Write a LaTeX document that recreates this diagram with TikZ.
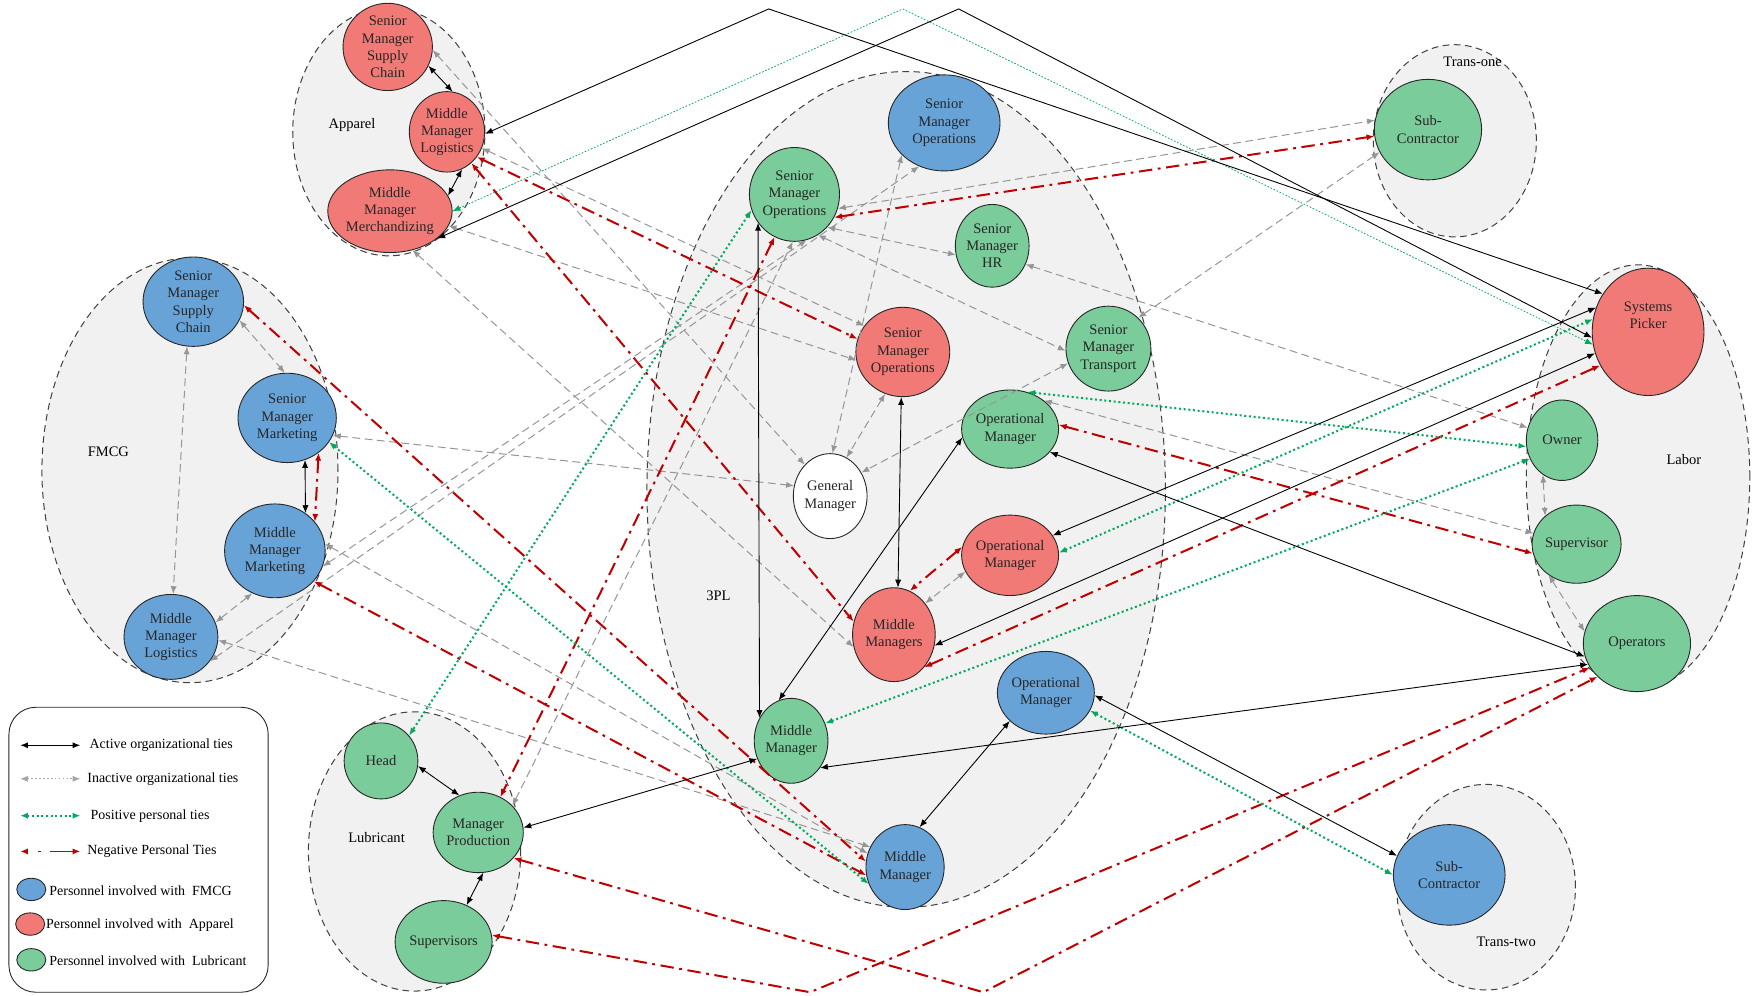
\documentclass[tikz,border=0pt]{standalone}
\usepackage{fontspec}
\setmainfont{Liberation Serif}
\usetikzlibrary{shapes.geometric,arrows.meta}
\definecolor{apred}{RGB}{242,122,118}
\definecolor{fmblue}{RGB}{104,163,216}
\definecolor{lugreen}{RGB}{122,204,154}
\definecolor{grpgray}{RGB}{241,241,241}
\definecolor{tieRed}{RGB}{192,0,0}
\definecolor{tieGreen}{RGB}{0,170,90}
\definecolor{tieGray}{RGB}{150,150,150}
\begin{document}
\begin{tikzpicture}[x=1pt,y=-1pt,
  person/.style={ellipse, draw=black!85, line width=0.8pt, inner sep=0pt, align=center, text=black!85, font=\fontsize{13}{15.5}\selectfont},
  fm/.style={person, fill=fmblue},
  ap/.style={person, fill=apred},
  lu/.style={person, fill=lugreen},
  wh/.style={person, fill=white},
  grp/.style={ellipse, draw=black!75, fill=grpgray, line width=0.9pt, dash pattern=on 6pt off 4pt, inner sep=0pt},
  lbl/.style={font=\fontsize{13}{15.5}\selectfont, inner sep=0pt},
  legtxt/.style={font=\fontsize{12.5}{15}\selectfont, inner sep=0pt, anchor=west},
  biarrow/.style={{Latex[length=7pt,width=5.5pt]}-{Latex[length=7pt,width=5.5pt]}},
  acttie/.style={biarrow, draw=black, line width=0.8pt},
  inatie/.style={biarrow, draw=tieGray, line width=0.9pt, dash pattern=on 7pt off 4pt},
  postie/.style={biarrow, draw=tieGreen, line width=1.8pt, dash pattern=on 1.8pt off 2.4pt},
  posthin/.style={biarrow, draw=tieGreen, line width=0.7pt, dash pattern=on 1.5pt off 1.5pt},
  negtie/.style={biarrow, draw=tieRed, line width=1.8pt, dash pattern=on 12pt off 5pt on 2.5pt off 5pt}
]
\useasboundingbox (0,0) rectangle (1568,891);

% groups
\node[grp, minimum width=172pt, minimum height=222pt] (gApp) at (348,118) {};
\node[grp, minimum width=265pt, minimum height=380pt] (gFM) at (170,421) {};
\node[grp, minimum width=190pt, minimum height=250pt] (gLu) at (371,762) {};
\node[grp, minimum width=464pt, minimum height=748pt] (g3PL) at (811,438) {};
\node[grp, minimum width=146pt, minimum height=172pt] (gT1) at (1302,126) {};
\node[grp, minimum width=200pt, minimum height=380pt] (gLab) at (1466,427) {};
\node[grp, minimum width=160pt, minimum height=184pt] (gT2) at (1330,794) {};

\node[lbl] (lApp) at (315,112) {Apparel};
\node[lbl] (lFM) at (97,404) {FMCG};
\node[lbl] (lLu) at (337,750) {Lubricant};
\node[lbl] (l3PL) at (643,533) {3PL};
\node[lbl] (lT1) at (1318,55) {Trans-one};
\node[lbl] (lLab) at (1507,411) {Labor};
\node[lbl] (lT2) at (1348,843) {Trans-two};

% Apparel
\node[ap, minimum width=80pt, minimum height=68pt] (aSMSC) at (347,42) {Senior\\Manager\\Supply\\Chain};
\node[ap, minimum width=64pt, minimum height=72pt] (aMML) at (400,118) {Middle\\Manager\\Logistics};
\node[ap, minimum width=90pt, minimum height=74pt] (aMMM) at (349,189) {Middle\\Manager\\Merchandizing};
% FMCG
\node[fm, minimum width=90pt, minimum height=80pt] (fSMSC) at (173,270) {Senior\\Manager\\Supply\\Chain};
\node[fm, minimum width=88pt, minimum height=80pt] (fSMM) at (257,374) {Senior\\Manager\\Marketing};
\node[fm, minimum width=90pt, minimum height=84pt] (fMMM) at (246,493) {Middle\\Manager\\Marketing};
\node[fm, minimum width=84pt, minimum height=76pt] (fMML) at (153,570) {Middle\\Manager\\Logistics};
% Lubricant
\node[lu, minimum width=66pt, minimum height=68pt] (lHead) at (341,681) {Head};
\node[lu, minimum width=80pt, minimum height=72pt] (lMP) at (428,745) {Manager\\Production};
\node[lu, minimum width=80pt, minimum height=74pt] (lSup) at (397,843) {Supervisors};
% 3PL
\node[fm, minimum width=100pt, minimum height=86pt] (pSMOb) at (845,110) {Senior\\Manager\\Operations};
\node[lu, minimum width=76pt, minimum height=84pt] (pSMOg) at (711,174) {Senior\\Manager\\Operations};
\node[lu, minimum width=66pt, minimum height=74pt] (pHR) at (888,220) {Senior\\Manager\\HR};
\node[ap, minimum width=84pt, minimum height=80pt] (pSMOr) at (808,315) {Senior\\Manager\\Operations};
\node[lu, minimum width=76pt, minimum height=76pt] (pTr) at (992,312) {Senior\\Manager\\Transport};
\node[lu, minimum width=74pt, minimum height=70pt] (pOMg) at (904,384) {Operational\\Manager};
\node[wh, minimum width=66pt, minimum height=76pt] (pGM) at (743,444) {General\\Manager};
\node[ap, minimum width=74pt, minimum height=72pt] (pOMr) at (904,497) {Operational\\Manager};
\node[ap, minimum width=74pt, minimum height=84pt] (pMMr) at (800,568) {Middle\\Managers};
\node[fm, minimum width=84pt, minimum height=74pt] (pOMb) at (936,620) {Operational\\Manager};
\node[lu, minimum width=66pt, minimum height=76pt] (pMMg) at (708,663) {Middle\\Manager};
\node[fm, minimum width=70pt, minimum height=76pt] (pMMb) at (810,776) {Middle\\Manager};
% Trans-one, Labor, Trans-two
\node[lu, minimum width=96pt, minimum height=90pt] (t1SC) at (1278,116) {Sub-\\Contractor};
\node[ap, minimum width=100pt, minimum height=114pt] (lbSP) at (1475,297) {Systems\\Picker\\[14pt]};
\node[lu, minimum width=64pt, minimum height=72pt] (lbOw) at (1398,394) {Owner};
\node[lu, minimum width=70pt, minimum height=70pt] (lbSu) at (1411,487) {Supervisor};
\node[lu, minimum width=96pt, minimum height=86pt] (lbOp) at (1465,576) {Operators};
\node[fm, minimum width=100pt, minimum height=90pt] (t2SC) at (1297,783) {Sub-\\Contractor};

% bend points
\coordinate (apx1) at (688,8);
\coordinate (apx2) at (858,8);
\coordinate (apx3) at (808,8);
\coordinate (bot1) at (725,888);
\coordinate (bot2) at (880,888);

% ---- inactive (gray dashed)
\draw[inatie] (aSMSC.-4) -- (pGM.129);
\draw[inatie] (aMML.-25) -- (pSMOr.146);
\draw[inatie] (aMMM.-14) -- (pSMOr.190);
\draw[inatie] (aMMM.-60) -- (pMMr.197);
\draw[inatie] (fSMSC.-22) -- (fSMM.93);
\draw[inatie] (fSMSC.-98) -- (fMML.87);
\draw[inatie] (fMMM.242) -- (fMML.18);
\draw[inatie] (fSMM.-21) -- (pGM.164);
\draw[inatie] (fMMM.8) -- (pMMb.160);
\draw[inatie] (fMMM.-18) -- (pSMOg.-75);
\draw[inatie] (fMML.-4) -- (pMMb.150);
\draw[inatie] (fMML.-32) -- (pSMOb.240);
\draw[inatie] (lMP.38) -- (pSMOg.-92);
\draw[inatie] (pSMOb.217) -- (pGM.87);
\draw[inatie] (pSMOr.247) -- (pGM.67);
\draw[inatie] (pTr.200) -- (pGM.37);
\draw[inatie] (pSMOg.-18) -- (t1SC.170);
\draw[inatie] (pSMOg.-45) -- (pHR.194);
\draw[inatie] (pSMOg.-60) -- (pTr.183);
\draw[inatie] (pHR.-29) -- (lbOw.160);
\draw[inatie] (pOMg.40) -- (lbSu.166);
\draw[inatie] (pTr.46) -- (t1SC.205);
\draw[inatie] (pOMr.200) -- (pMMr.45);
\draw[inatie] (lbOw.241) -- (lbSu.138);
\draw[inatie] (lbSu.228) -- (lbOp.167);

% ---- negative (red dash-dot)
\draw[negtie] (aMML.-40) -- (pSMOr.164);
\draw[negtie] (aMML.-52) -- (pMMr.162);
\draw[negtie] (pSMOg.-115) -- (lMP.58);
\draw[negtie] (pSMOg.-30) -- (t1SC.187);
\draw[negtie] (fSMSC.-4) -- (pMMb.172);
\draw[negtie] (fSMM.-48) -- (fMMM.36);
\draw[negtie] (fMMM.-38) -- (pMMb.192);
\draw[negtie] (lSup.8) -- (bot1) -- (lbOp.207);
\draw[negtie] (lMP.-36) -- (bot2) -- (lbOp.220);
\draw[negtie] (pOMr.170) -- (pMMr.70);
\draw[negtie] (pMMr.-47) -- (lbSP.215);
\draw[negtie] (pOMg.5) -- (lbSu.192);

% ---- positive (green dotted)
\draw[postie] (pSMOg.200) -- (lHead.42);
\draw[postie] (fSMM.-30) -- (pMMb.205);
\draw[postie] (pOMg.65) -- (lbOw.190);
\draw[postie] (pOMr.3) -- (lbSP.167);
\draw[postie] (pMMg.27) -- (lbOw.210);
\draw[postie] (pOMb.-22) -- (t2SC.180);
\draw[posthin] (aMMM.0) -- (apx3) -- (lbSP.193);

% ---- active (black)
\draw[acttie] (aSMSC.-25) -- (aMML.82);
\draw[acttie] (aMML.-68) -- (aMMM.15);
\draw[acttie] (fSMM.-67) -- (fMMM.51);
\draw[acttie] (lHead.-8) -- (lMP.117);
\draw[acttie] (lMP.-83) -- (lSup.58);
\draw[acttie] (aMML.-3) -- (apx1) -- (lbSP.140);
\draw[acttie] (aMMM.-30) -- (apx2) -- (lbSP.186);
\draw[acttie] (pSMOg.-142) -- (pMMg.144);
\draw[acttie] (pSMOr.-92) -- (pMMr.85);
\draw[acttie] (pOMg.190) -- (pMMg.107);
\draw[acttie] (pOMg.-30) -- (lbOp.194);
\draw[acttie] (pMMg.-43) -- (lbOp.203);
\draw[acttie] (pOMb.-3) -- (t2SC.160);
\draw[acttie] (pOMb.218) -- (pMMb.70);
\draw[acttie] (lMP.6) -- (pMMg.208);
\draw[acttie] (pMMr.-15) -- (lbSP.202);
\draw[acttie] (pOMr.25) -- (lbSP.155);

% ---- legend
\node[draw=black!85, line width=0.8pt, rounded corners=24pt, minimum width=232pt, minimum height=255pt, inner sep=0pt] (legend) at (124,760.5) {};
\coordinate (k1a) at (18,667); \coordinate (k1b) at (72,667);
\coordinate (k2a) at (18,697); \coordinate (k2b) at (72,697);
\coordinate (k3a) at (18,730); \coordinate (k3b) at (72,730);
\coordinate (k4a) at (18,762); \coordinate (k4b) at (72,762);
\draw[acttie, line width=1.2pt] (k1a) -- (k1b);
\draw[biarrow, draw=black!35, line width=0.9pt, dash pattern=on 1.5pt off 2pt] (k2a) -- (k2b);
\draw[postie] (k3a) -- (k3b);
\draw[biarrow, draw=tieRed, line width=1.6pt, dash pattern=on 0pt off 10pt on 2.5pt off 8pt on 26pt off 100pt] (k4a) -- (k4b);
\node[legtxt] (t1) at (80,667) {Active organizational ties};
\node[legtxt] (t2) at (78,697) {Inactive organizational ties};
\node[legtxt] (t3) at (81,730) {Positive personal ties};
\node[legtxt] (t4) at (78,762) {Negative Personal Ties};
\node[fm, minimum width=26pt, minimum height=20pt] (kFM) at (28,796) {};
\node[ap, minimum width=26pt, minimum height=20pt] (kAP) at (27,827) {};
\node[lu, minimum width=26pt, minimum height=20pt] (kLU) at (28,859) {};
\node[legtxt] (t5) at (44,797) {Personnel involved with\ \ FMCG};
\node[legtxt] (t6) at (41,828) {Personnel involved with\ \ Apparel};
\node[legtxt] (t7) at (44,860) {Personnel involved with\ \ Lubricant};
\end{tikzpicture}
\end{document}
